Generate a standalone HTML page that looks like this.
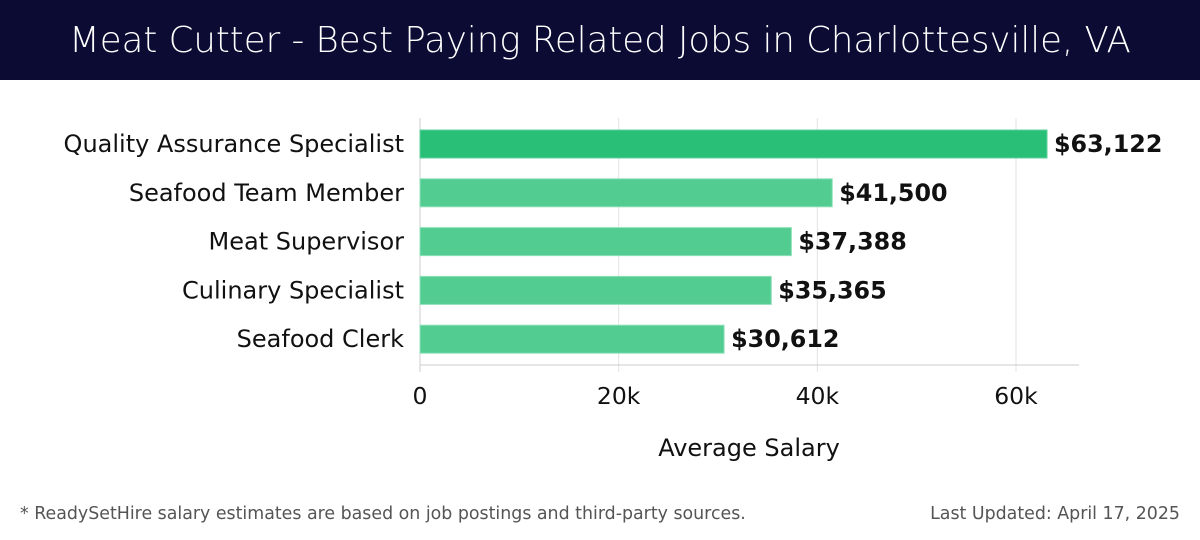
<!DOCTYPE html>
<html><head><meta charset="utf-8"><style>
body{margin:0;width:1200px;height:540px;overflow:hidden;background:#fff;font-family:"DejaVu Sans","Liberation Sans",sans-serif}
#hdr{position:absolute;left:0;top:0;width:1200px;height:80px;background:#0b0b33;color:#fff;font-size:35.5px;text-align:center;line-height:82px;font-weight:300}
svg{position:absolute;left:0;top:0}
</style></head><body>
<div id="hdr">Meat Cutter - Best Paying Related Jobs in Charlottesville, VA</div>
<svg id="c" width="1200" height="540"></svg>
<script>
const categories=["Quality Assurance Specialist","Seafood Team Member","Meat Supervisor","Culinary Specialist","Seafood Clerk"];
const values=[63122,41500,37388,35365,30612];
const valueLabels=["$63,122","$41,500","$37,388","$35,365","$30,612"];
const ticks=[0,20000,40000,60000];
const tickLabels=["0","20k","40k","60k"];
const NS="http://www.w3.org/2000/svg";
const svg=document.getElementById('c');
const x=v=>420+v*(1016-420)/60000;
const yc=i=>144+i*48.8;
function mk(t,a,txt){const e=document.createElementNS(NS,t);for(const k in a)e.setAttribute(k,a[k]);if(txt!=null)e.textContent=txt;svg.appendChild(e);return e;}
ticks.forEach((t,i)=>{
 const g=mk('line',{x1:x(t),x2:x(t),y1:118,y2:372,stroke:i==0?'#ccc':'#e3e3e3','stroke-width':1});
 
 
 const l=mk('text',{x:x(t),y:404,'text-anchor':'middle','font-size':23.5,fill:'#111'},tickLabels[i]);
 
 
});
const ax=mk('line',{x1:420,x2:1079,y1:365,y2:365,stroke:'#ccc','stroke-width':1});


categories.forEach((c,i)=>{
 const b=mk('rect',{x:420,y:yc(i)-14,width:x(values[i])-420,height:28,fill:i==0?'#2abf77':'#52cc90',stroke:i==0?'#5fd29b':'#8ee0b8','stroke-width':1});
 
 
 const l=mk('text',{x:404,y:yc(i)+8,'text-anchor':'end','font-size':24,fill:'#111'},c);
 
 
 const v=mk('text',{x:x(values[i])+7,y:yc(i)+8,'font-size':23.8,'font-weight':'bold',fill:'#111'},valueLabels[i]);
 
 
});
const at=mk('text',{x:749,y:456,'text-anchor':'middle','font-size':24,fill:'#111'},'Average Salary');


const f1=mk('text',{x:20,y:519,'font-size':17.4,fill:'#555'},'* ReadySetHire salary estimates are based on job postings and third-party sources.');


const f2=mk('text',{x:1180,y:519,'text-anchor':'end','font-size':17.4,fill:'#555'},'Last Updated: April 17, 2025');


</script>
</body></html>
